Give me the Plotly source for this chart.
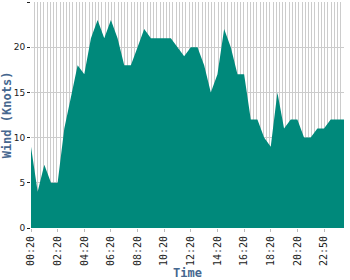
import plotly.graph_objects as go

times = ["00:20", "00:50", "01:20", "01:50", "02:20", "02:50", "03:20", "03:50",
         "04:20", "04:50", "05:20", "05:50", "06:20", "06:50", "07:20", "07:50",
         "08:20", "08:50", "09:20", "09:50", "10:20", "10:50", "11:20", "11:50",
         "12:20", "12:50", "13:20", "13:50", "14:20", "14:50", "15:20", "15:50",
         "16:20", "16:50", "17:20", "17:50", "18:20", "18:50", "19:20", "19:50",
         "20:20", "20:50", "21:20", "22:20", "22:50", "23:20", "23:50", "00:20 "]

wind = [9, 4, 7, 5, 5, 11, 14.5, 18, 17, 21, 23, 21, 23, 21, 18, 18,
        20, 22, 21, 21, 21, 21, 20, 19, 20, 20, 18, 15, 17, 22, 20, 17,
        17, 12, 12, 10, 9, 15, 11, 12, 12, 10, 10, 11, 11, 12, 12, 12]

label_step = 4
idx = list(range(len(times)))
tick_vals = idx[::label_step]
tick_text = [times[i] for i in tick_vals]

fill_color = "#00897B"
grid_color = "#cccccc"
title_color = "#46678f"
mono = "DejaVu Sans Mono"

fig = go.Figure(go.Scatter(
    x=idx, y=wind, mode="lines", fill="tozeroy",
    line=dict(color=fill_color, width=0), fillcolor=fill_color,
    hoverinfo="skip"))

fig.update_layout(
    width=350, height=280,
    margin=dict(l=31, r=6, t=2, b=52),
    plot_bgcolor="white", paper_bgcolor="white",
    showlegend=False,
)

fig.update_xaxes(
    range=[0, len(times) - 1],
    tickmode="array", tickvals=tick_vals, ticktext=tick_text,
    tickangle=-90,
    tickfont=dict(family=mono, size=10, color="#222222"),
    ticks="outside", ticklen=3, tickcolor="#bbbbbb",
    showgrid=False, zeroline=False, showline=False,
    minor=dict(dtick=(len(times) - 1) / 97, tick0=0.0001, showgrid=True,
               gridcolor=grid_color, gridwidth=1, ticks=""),
    title=dict(text="<b>Time</b>", font=dict(family=mono, size=12, color=title_color),
               standoff=4),
)

fig.update_yaxes(
    range=[0, 25], dtick=5, tick0=0,
    tickfont=dict(family="DejaVu Sans", size=9, color="#222222"),
    ticks="outside", ticklen=3, tickcolor="#222222",
    showgrid=True, gridcolor=grid_color, gridwidth=1,
    zeroline=False, showline=False,
    title=dict(text="<b>Wind (Knots)</b>", font=dict(family=mono, size=12, color=title_color),
               standoff=2),
)

fig.write_html("out.html")
